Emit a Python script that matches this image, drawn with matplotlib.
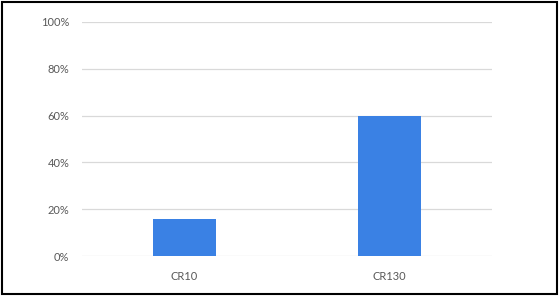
import matplotlib
matplotlib.use('Agg')
import matplotlib.pyplot as plt
from matplotlib.patches import Rectangle
from matplotlib.ticker import PercentFormatter

categories = ['CR10', 'CR130']
values = [16, 60]
y_ticks = [0, 20, 40, 60, 80, 100]

plt.rcParams['font.family'] = ['Lato', 'DejaVu Sans']

fig = plt.figure(figsize=(5.6, 2.96), dpi=100)
ax = fig.add_axes([0.1464, 0.1351, 0.7322, 0.7906])

ax.bar(range(len(categories)), values, width=0.31, color='#3a81e4', zorder=3)
ax.set_xlim(-0.5, len(categories) - 0.5)
ax.set_ylim(0, 100)
ax.set_yticks(y_ticks)
ax.yaxis.set_major_formatter(PercentFormatter(decimals=0))
ax.set_xticks(range(len(categories)))
ax.set_xticklabels(categories)

ax.grid(axis='y', color='#d9d9d9', linewidth=0.9, zorder=0)
for s in ax.spines.values():
    s.set_visible(False)
ax.tick_params(axis='both', length=0, colors='#595959', labelsize=8)
ax.tick_params(axis='y', pad=9)
ax.tick_params(axis='x', pad=11)

# black frame round the whole picture
fig.patches.append(Rectangle((0.004, 0.007), 0.991, 0.986, transform=fig.transFigure,
                             fill=False, edgecolor='black', linewidth=1.5))

fig.savefig('out.png', dpi=100)
